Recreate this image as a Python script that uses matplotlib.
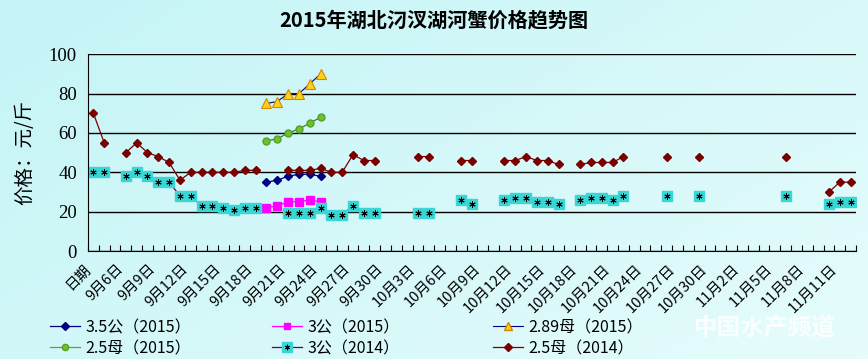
import numpy as np
import matplotlib.pyplot as plt
from matplotlib.colors import LinearSegmentedColormap
from matplotlib.lines import Line2D
from matplotlib.legend_handler import HandlerTuple

plt.rcParams['font.family'] = ['Noto Sans CJK SC', 'DejaVu Sans']

N = None
# 类别：第一格是“日期”，之后按天排列
categories = (['日期'] + [f'9月{d}日' for d in range(4, 31)]
              + [f'10月{d}日' for d in range(1, 32)]
              + [f'11月{d}日' for d in range(1, 13)])

# 2014 年数据（按类别对齐，None 表示缺失）
female25_2014 = [70, 55, N, 50, 55, 50, 48, 45, 36, 40,
                 40, 40, 40, 40, 41, 41, N, N, 41, 41,
                 41, 42, 40, 40, 49, 46, 46, N, N, N,
                 48, 48, N, N, 46, 46, N, N, 46, 46,
                 48, 46, 46, 44, N, 44, 45, 45, 45, 48,
                 N, N, N, 48, N, N, 48, N, N, N,
                 N, N, N, N, 48, N, N, N, 30, 35,
                 35]
male3_2014 = [40, 40, N, 38, 40, 38, 35, 35, 28, 28,
              23, 23, 22, 21, 22, 22, N, N, 19.5, 19.5,
              19.5, 22, 18.5, 18.5, 23, 19.5, 19.5, N, N, N,
              19.5, 19.5, N, N, 26, 24, N, N, 26, 27,
              27, 25, 25, 24, N, 26, 27, 27, 26, 28,
              N, N, N, 28, N, N, 28, N, N, N,
              N, N, N, N, 28, N, N, N, 24, 25,
              25]

# 2015 年数据
dates_2015 = ['9月19日', '9月20日', '9月21日', '9月22日', '9月23日', '9月24日']
male35_2015 = [35, 36, 38, 39, 39, 38]
male3_2015 = [22, 23, 25, 25, 26, 25]
female289_2015 = [75, 76, 80, 80, 85, 90]
female25_2015 = [56, 57, 60, 62, 65, 68]

x_all = np.arange(len(categories))
x15 = np.array([categories.index(d) for d in dates_2015])

fig = plt.figure(figsize=(8.68, 3.59), dpi=100)

# 背景渐变
bg = fig.add_axes([0, 0, 1, 1], zorder=-10)
cmap = LinearSegmentedColormap.from_list('bg', ['#c4f4f6', '#e6fcfc'])
gx, gy = np.meshgrid(np.linspace(0, 1, 200), np.linspace(0, 1, 100))
bg.imshow(0.6 * gx + 0.4 * gy, cmap=cmap, aspect='auto', extent=[0, 1, 1, 0])
bg.axis('off')

ax = fig.add_axes([88 / 868, 1 - 251 / 359, 768 / 868, (251 - 54.3) / 359])
ax.patch.set_alpha(0)

ax.plot(x15, male35_2015, color='#000080', lw=0.9, marker='D', ms=4.5)
ax.plot(x15, male3_2015, color='#ff00ff', lw=0.9, marker='s', ms=5.5)
ax.plot(x15, female289_2015, color='#000080', lw=0.8, marker='^', ms=7,
        mfc='#ffd21a', mec='#d08a00', mew=0.8)
ax.plot(x15, female25_2015, color='#207020', lw=0.8, marker='o', ms=5,
        mfc='#6cc22c', mec='#58a020')

y3 = np.array(male3_2014, dtype=float)
ax.plot(x_all, y3, color='#600060', lw=0.9, marker='s', ms=7.5,
        mfc='#3ad6d6', mec='#3ad6d6')
ax.plot(x_all, y3, ls='none', marker=(6, 2, 0), ms=4.5, mec='black', mew=0.7)

y25 = np.array(female25_2014, dtype=float)
ax.plot(x_all, y25, color='#7a0000', lw=0.9, marker='D', ms=4.5)

ax.set_yticks(range(0, 101, 20))
ax.tick_params(axis='y', length=0, pad=8, labelsize=13.5)
for t in ax.get_yticklabels():
    t.set_family(['Liberation Serif', 'DejaVu Serif'])
ax.yaxis.grid(True, color='black', lw=1)
ax.set_axisbelow(True)
for s in ['top', 'right']:
    ax.spines[s].set_visible(False)

# 主刻度不可见，仅用来放标签（稍向左偏，仿照原图）
ax.set_xticks(x_all[::3] - 0.45)
ax.set_xticklabels(categories[::3], rotation=45, ha='right', va='center',
                   rotation_mode='anchor', fontsize=10.5)
ax.set_xticks(np.arange(-0.5, len(categories)), minor=True)
ax.tick_params(axis='x', which='major', length=0, pad=11)
ax.tick_params(axis='x', which='minor', direction='in', length=4, width=0.8)
ax.set_xlim(-0.5, len(categories) - 0.5)
ax.set_ylim(0, 100)

ax.set_ylabel('价格：元/斤', fontsize=14, labelpad=10)
fig.text(0.5, 1 - 20 / 359, '2015年湖北汈汊湖河蟹价格趋势图', ha='center',
         va='center', fontsize=14.5, fontweight='bold')

# 图例（三列，手动放置）
h35 = Line2D([], [], color='#000080', lw=0.9, marker='D', ms=4)
h3 = Line2D([], [], color='#ff00ff', lw=0.9, marker='s', ms=5)
h289 = Line2D([], [], color='#000080', lw=0.8, marker='^', ms=6,
              mfc='#ffd21a', mec='#d08a00')
h25 = Line2D([], [], color='#5aa82a', lw=0.9, marker='o', ms=4.5,
             mfc='#6cc22c', mec='#58a020')
h3b = (Line2D([], [], color='#600060', lw=0.9, marker='s', ms=6.5,
              mfc='#3ad6d6', mec='#3ad6d6'),
       Line2D([], [], ls='none', marker=(6, 2, 0), ms=4, mec='black', mew=0.6))
h25b = Line2D([], [], color='#7a0000', lw=0.9, marker='D', ms=4)

columns = [([h35, h25], ['3.5公（2015）', '2.5母（2015）'], 50),
           ([h3, h3b], ['3公（2015）', '3公（2014）'], 272),
           ([h289, h25b], ['2.89母（2015）', '2.5母（2014）'], 493)]
for handles, labels, px in columns:
    fig.legend(handles, labels, loc='upper left',
               bbox_to_anchor=(px / 868, 1 - 319 / 359),
               frameon=False, fontsize=11.5, borderpad=0,
               borderaxespad=0, handlelength=1.9, handletextpad=0.3,
               labelspacing=0.25,
               handler_map={tuple: HandlerTuple(ndivide=1, pad=0)})

fig.text(765 / 868, 1 - 328 / 359, '中国水产频道', ha='center', va='center',
         fontsize=17, color='white', alpha=0.85, style='italic',
         fontweight='bold')

fig.savefig('out.png', dpi=100)
